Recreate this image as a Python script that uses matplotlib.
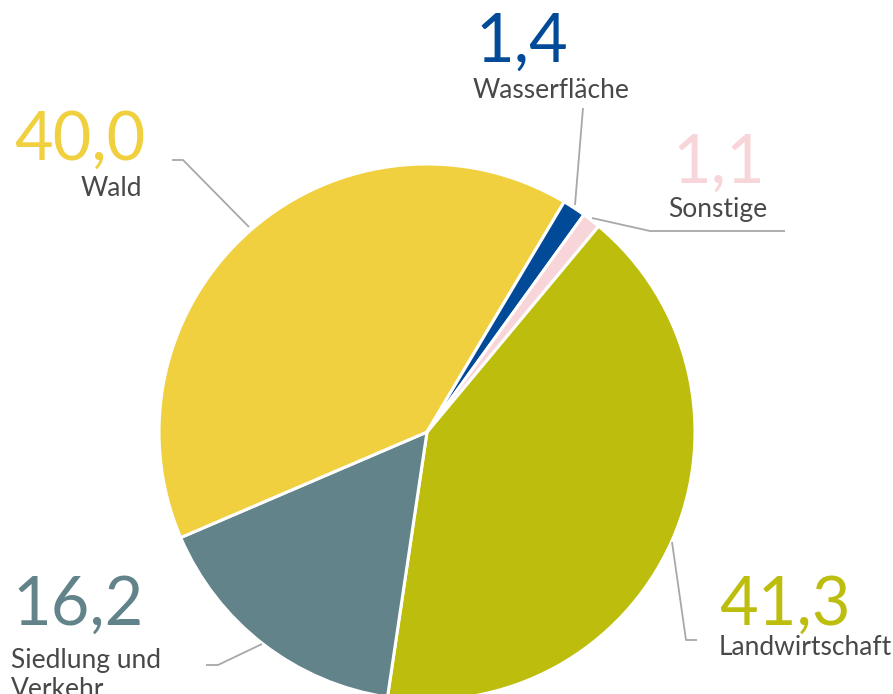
"""Flächennutzung in Prozent – Tortendiagramm."""

import matplotlib

matplotlib.use("Agg")
import matplotlib.pyplot as plt

# data (clockwise, starting at Landwirtschaft)
categories = ["Landwirtschaft", "Siedlung und\nVerkehr", "Wald", "Wasserfläche", "Sonstige"]
values = [41.3, 16.2, 40.0, 1.4, 1.1]
value_labels = ["41,3", "16,2", "40,0", "1,4", "1,1"]
colors = ["#BDBD0E", "#62838A", "#F0D03E", "#004A98", "#F8D5D8"]

W, H = 893, 694
TEXT_COLOR = "#484848"
LINE_COLOR = "#A8A8A8"
FONT = "Lato"


def py(y):
    # pixel row (from top) -> data y
    return H - y


fig = plt.figure(figsize=(W / 100, H / 100), dpi=100)
ax = fig.add_axes([0, 0, 1, 1])

ax.pie(
    values,
    colors=colors,
    startangle=50.2,
    counterclock=False,
    center=(427, py(432)),
    radius=268,
    wedgeprops=dict(edgecolor="white", linewidth=2.2),
)
ax.set_xlim(0, W)
ax.set_ylim(0, H)
ax.set_aspect("equal")
ax.axis("off")

# label layout: (number x, number baseline, label x, label baseline of last line, ha)
layout = [
    (719, 625, 719, 655, "left"),
    (12, 625, 11, 697, "left"),
    (145, 160, 142, 196, "right"),
    (475, 62, 473, 98, "left"),
    (672, 183, 668, 217, "left"),
]

for (nx, ny, lx, ly, ha), num, cat, col in zip(layout, value_labels, categories, colors):
    ax.text(nx, py(ny), num, color=col, fontsize=48, family=FONT,
            ha=ha, va="baseline")
    ax.text(lx, py(ly), cat, color=TEXT_COLOR, fontsize=19, family=FONT,
            ha=ha, va="baseline", linespacing=1.2)

# leader lines
leaders = [
    [(672, 542), (686, 640), (697, 640)],
    [(206, 665), (218, 665), (262, 644)],
    [(172, 160), (183, 160), (249, 227)],
    [(583, 108), (575, 205)],
    [(592, 218), (650, 231), (785, 231)],
]
for pts in leaders:
    ax.plot([p[0] for p in pts], [py(p[1]) for p in pts], color=LINE_COLOR, lw=1.3,
            solid_capstyle="butt")

fig.savefig("out.png", dpi=100)
plt.close(fig)
